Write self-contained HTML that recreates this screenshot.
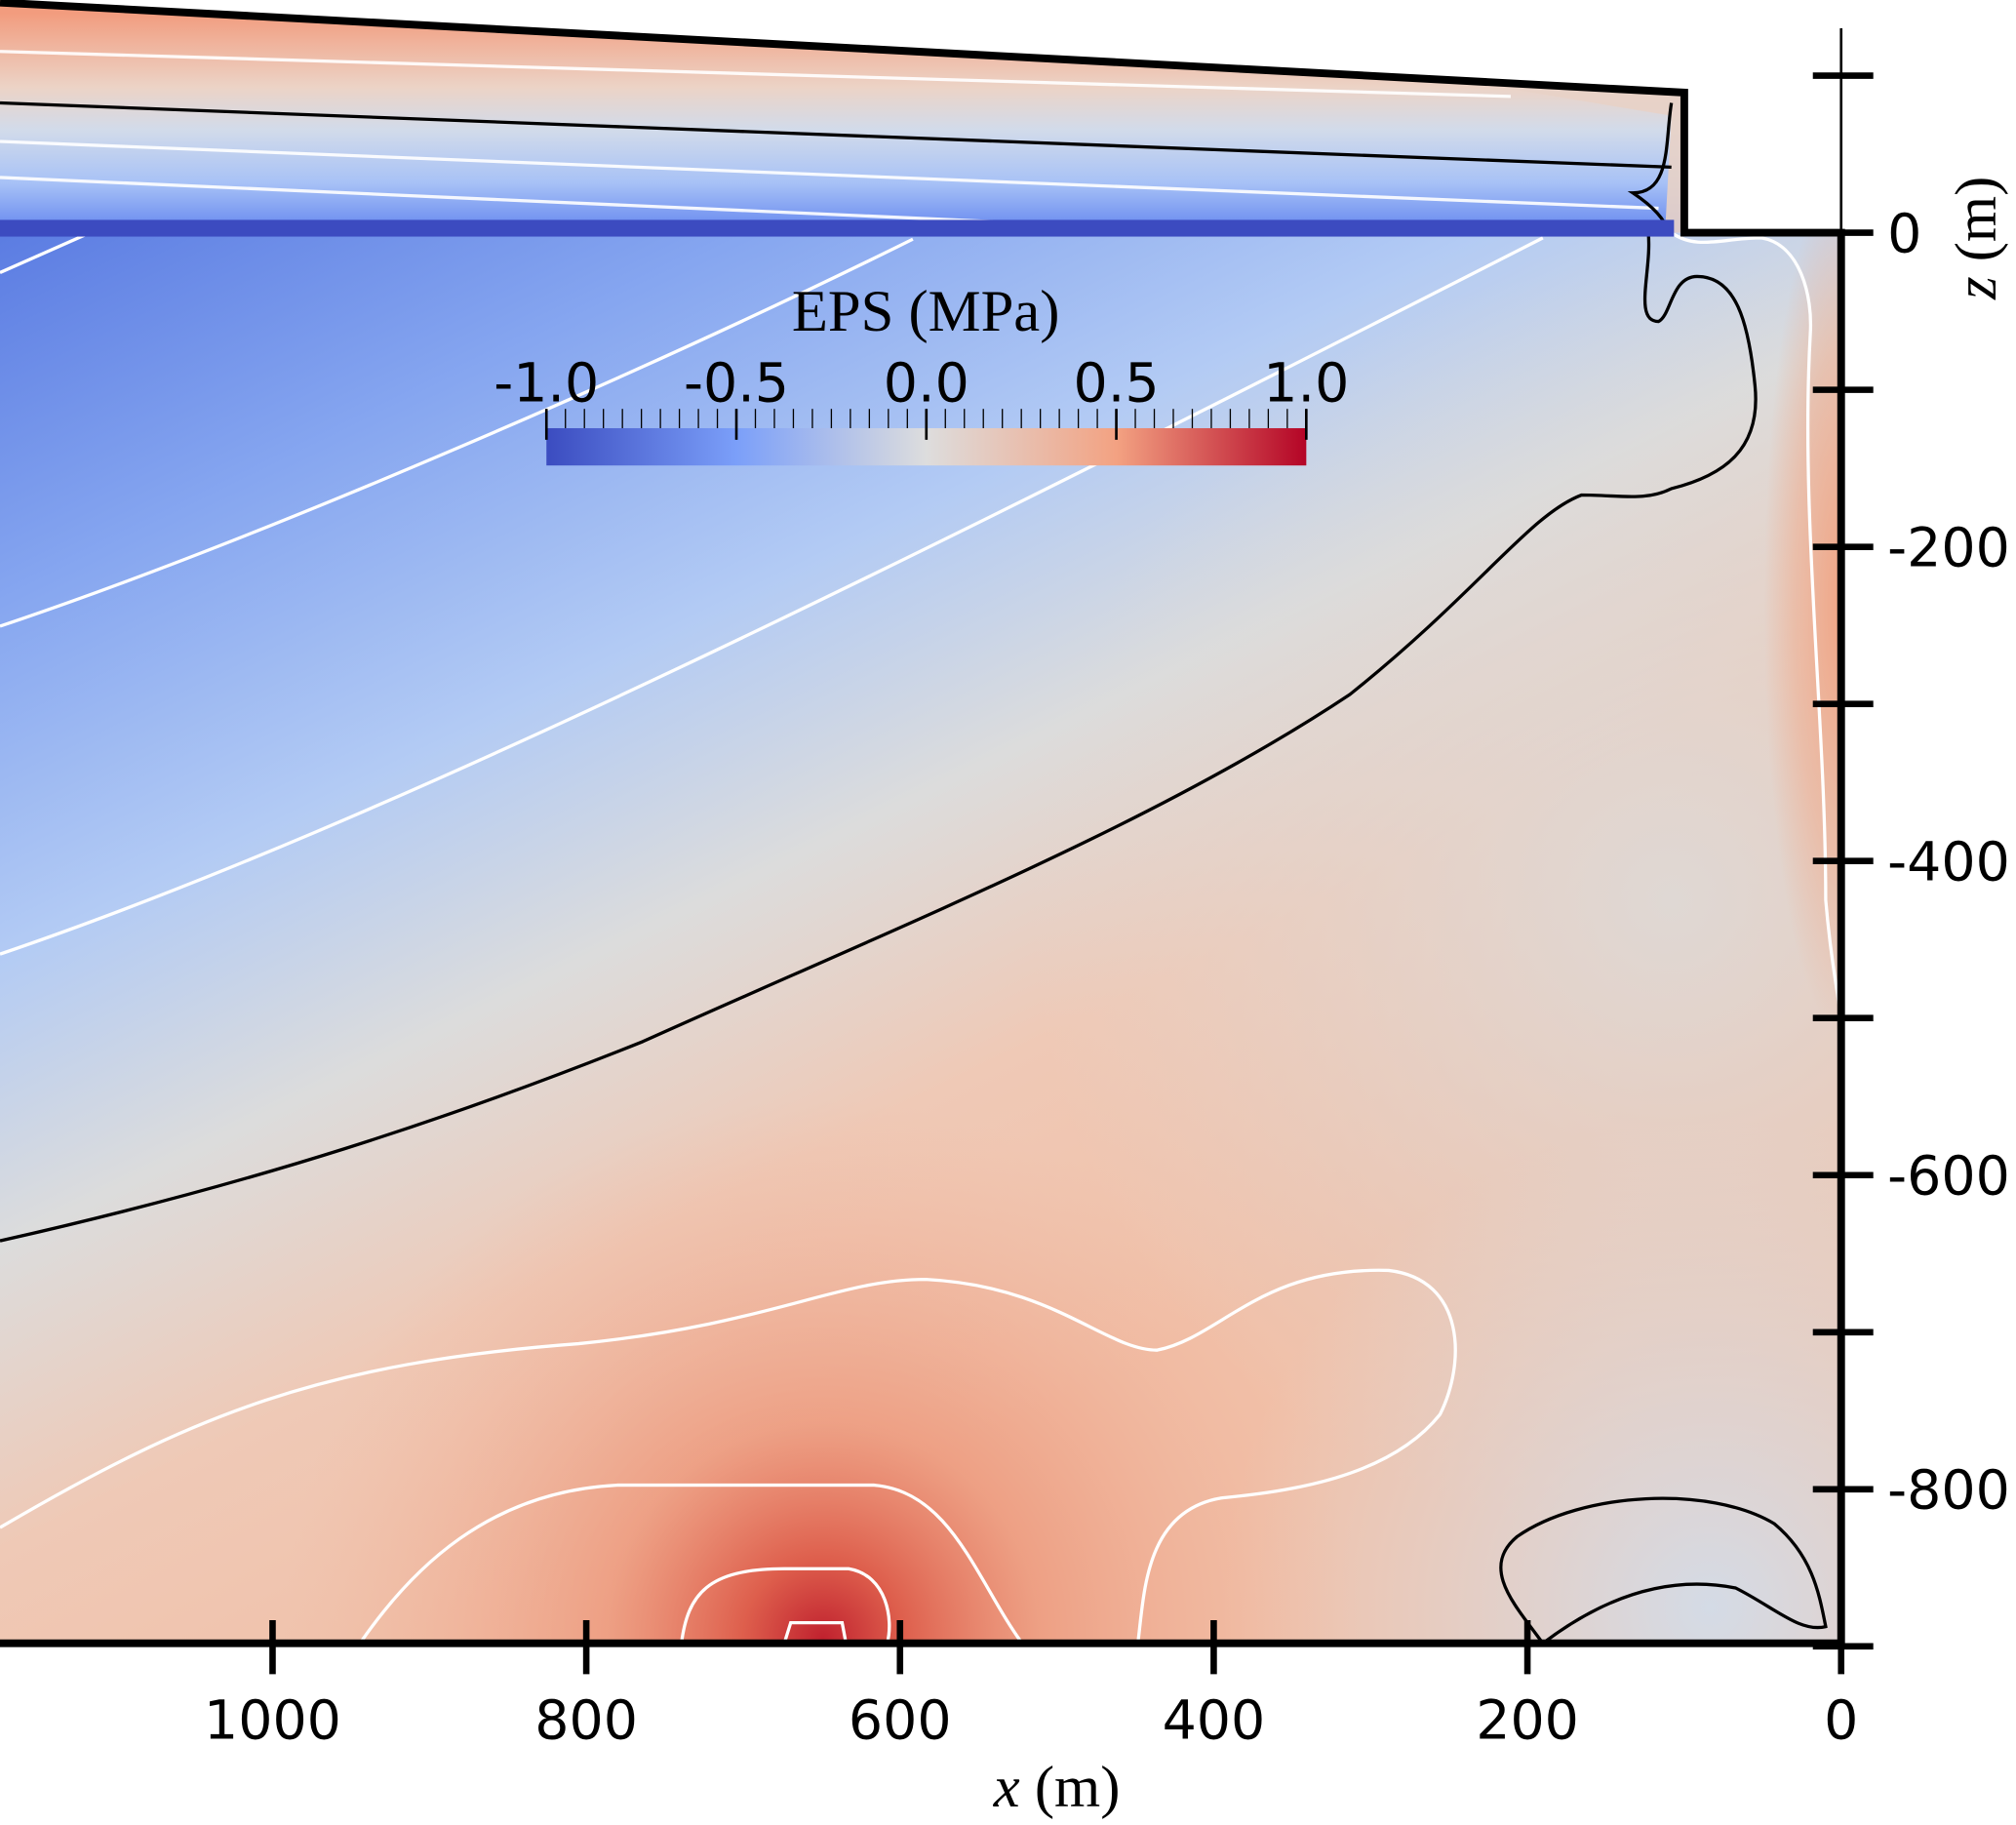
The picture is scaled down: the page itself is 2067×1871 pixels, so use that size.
<!DOCTYPE html>
<html><head><meta charset="utf-8"><style>
html,body{margin:0;padding:0;background:#fff;}
svg{display:block;}
text{font-family:"DejaVu Sans","Liberation Sans",sans-serif;}
.serif{font-family:"Liberation Serif",serif;}
</style></head><body>
<svg id="chart" width="2067" height="1871" viewBox="0 0 1568 1419.3" preserveAspectRatio="none" xmlns="http://www.w3.org/2000/svg">
<defs>
  <linearGradient id="field" gradientUnits="userSpaceOnUse" x1="0" y1="180" x2="520" y2="1240">
    <stop offset="0" stop-color="#5b7ce2"/>
    <stop offset="0.22" stop-color="#86a6f0"/>
    <stop offset="0.43" stop-color="#b3cbf4"/>
    <stop offset="0.6" stop-color="#dcdcdc"/>
    <stop offset="0.78" stop-color="#efc9b6"/>
    <stop offset="1" stop-color="#f1c0a8"/>
  </linearGradient>
  <radialGradient id="hot" gradientUnits="userSpaceOnUse" cx="640" cy="1275" r="420">
    <stop offset="0" stop-color="#c0212e" stop-opacity="1"/>
    <stop offset="0.15" stop-color="#dd5a48" stop-opacity="0.95"/>
    <stop offset="0.4" stop-color="#eb8a6c" stop-opacity="0.6"/>
    <stop offset="1" stop-color="#f2b49a" stop-opacity="0"/>
  </radialGradient>
  <radialGradient id="coolbr" gradientUnits="userSpaceOnUse" cx="1330" cy="1250" r="380">
    <stop offset="0" stop-color="#d4dbe6" stop-opacity="1"/>
    <stop offset="1" stop-color="#dcdcdc" stop-opacity="0"/>
  </radialGradient>
  <radialGradient id="grayr" gradientUnits="userSpaceOnUse" cx="1300" cy="700" r="500">
    <stop offset="0" stop-color="#dddad8" stop-opacity="0.9"/>
    <stop offset="1" stop-color="#dddad8" stop-opacity="0"/>
  </radialGradient>
  <radialGradient id="edge" cx="0.5" cy="0.5" r="0.5">
    <stop offset="0" stop-color="#f0a383" stop-opacity="0.95"/>
    <stop offset="0.6" stop-color="#f0a888" stop-opacity="0.5"/>
    <stop offset="1" stop-color="#f0a888" stop-opacity="0"/>
  </radialGradient>
  <linearGradient id="shelf" gradientUnits="userSpaceOnUse" x1="0" y1="10" x2="0" y2="175">
    <stop offset="0" stop-color="#f29c7e"/>
    <stop offset="0.35" stop-color="#ecd3c6"/>
    <stop offset="0.55" stop-color="#d2dbea"/>
    <stop offset="0.8" stop-color="#a8c2f6"/>
    <stop offset="1" stop-color="#6d8ef0"/>
  </linearGradient>
  <linearGradient id="cbar" x1="0" y1="0" x2="1" y2="0">
    <stop offset="0" stop-color="#3b4cc0"/>
    <stop offset="0.25" stop-color="#7b9ff9"/>
    <stop offset="0.5" stop-color="#dddddd"/>
    <stop offset="0.75" stop-color="#f3a282"/>
    <stop offset="1" stop-color="#b40426"/>
  </linearGradient>
  <clipPath id="water"><rect x="0" y="181" width="1432" height="1097"/></clipPath>
</defs>

<g>
  <polygon points="0,0 1310,72 1310,181 0,181" fill="url(#shelf)"/>
  <polygon points="1180,70 1310,72 1310,181 1295,181 1300,90" fill="#e8d2c6" opacity="0.9"/>
  <path d="M0,40 L1175,75" stroke="#fff" stroke-width="2.5" fill="none" opacity="0.9"/>
  <path d="M0,80 L1300,130" stroke="#000" stroke-width="2.5" fill="none"/>
  <path d="M0,110 L1290,162" stroke="#fff" stroke-width="2.5" fill="none" opacity="0.9"/>
  <path d="M0,138 L900,178" stroke="#fff" stroke-width="2.5" fill="none" opacity="0.9"/>
  <path d="M1300,80 C1295,110 1300,150 1270,150 C1285,160 1295,170 1298,181" stroke="#000" stroke-width="2.5" fill="none"/>
</g>

<g clip-path="url(#water)">
  <rect x="0" y="181" width="1432" height="1097" fill="url(#field)"/>
  <rect x="0" y="181" width="1432" height="1097" fill="url(#grayr)"/>
  <rect x="0" y="181" width="1432" height="1097" fill="url(#coolbr)"/>
  <rect x="0" y="181" width="1432" height="1097" fill="url(#hot)"/>
  <ellipse cx="1432" cy="470" rx="60" ry="330" fill="url(#edge)"/>
  <g fill="none" stroke="#fff" stroke-width="2.5">
    <path d="M0,212 L70,181"/>
    <path d="M0,487 C200,420 500,290 710,186"/>
    <path d="M0,742 C300,640 700,440 1200,185"/>
    <path d="M0,1188 C150,1100 250,1060 450,1045 C600,1030 650,995 720,995 C820,1000 860,1050 900,1050 C950,1040 980,985 1080,988 C1140,995 1140,1060 1120,1100 C1080,1150 1000,1160 950,1165 C890,1175 890,1240 885,1278"/>
    <path d="M280,1278 C320,1220 380,1160 480,1155 L680,1155 C740,1160 760,1230 795,1278"/>
    <path d="M530,1278 C535,1240 550,1220 610,1220 L660,1220 C690,1225 695,1260 690,1278"/>
    <path d="M610,1278 L615,1262 L655,1262 L658,1278"/>
    <path d="M1300,181 C1320,195 1340,185 1370,185 C1400,190 1410,230 1408,260 C1400,400 1420,560 1420,700 C1425,760 1432,780 1432,800"/>
  </g>
  <g fill="none" stroke="#000" stroke-width="2.5">
    <path d="M0,965 C200,920 350,870 500,810 C700,720 900,640 1050,540 C1150,460 1190,400 1230,385 C1260,385 1280,390 1300,380 C1340,370 1370,350 1365,300 C1360,250 1350,215 1320,215 C1300,215 1300,245 1290,250 C1270,250 1285,210 1282,181"/>
    <path d="M1200,1278 C1180,1250 1150,1220 1180,1195 C1230,1160 1330,1155 1380,1185 C1410,1210 1415,1240 1420,1265 C1400,1270 1380,1250 1350,1235 C1300,1225 1250,1240 1200,1278"/>
  </g>
</g>
<rect x="0" y="171" width="1302" height="13" fill="#3c4bc0"/>

<g fill="none" stroke="#000" stroke-width="6">
  <polyline points="0,2 1310,72 1310,181 1432,181 1432,1278 0,1278"/>
</g>

<g id="zaxis"></g>
<g id="xaxis"></g>
<line x1="1432" y1="22" x2="1432" y2="181" stroke="#000" stroke-width="2"/>
<text class="serif" x="1552" y="185" font-size="46" transform="rotate(-90 1552 185)" text-anchor="middle"><tspan font-style="italic">z</tspan> (m)</text>
<text class="serif" x="822" y="1405" font-size="46" text-anchor="middle"><tspan font-style="italic">x</tspan> (m)</text>

<g id="colorbar">
  <text class="serif" x="720" y="257" font-size="46" text-anchor="middle">EPS (MPa)</text>
  <rect x="425" y="333" width="591" height="29" fill="url(#cbar)"/>
</g>

<script>
var zTicks = [100, 0, -100, -200, -300, -400, -500, -600, -700, -800, -900];
var zLabels = ["0", "-200", "-400", "-600", "-800"];
var zLabelVals = [0, -200, -400, -600, -800];
var xTicks = [1000, 800, 600, 400, 200, 0];
var xLabels = ["1000", "800", "600", "400", "200", "0"];
var cbTicks = [-1.0, -0.5, 0.0, 0.5, 1.0];
var cbLabels = ["-1.0", "-0.5", "0.0", "0.5", "1.0"];
var cbMinorStep = 0.05;

var NS = "http://www.w3.org/2000/svg";
function zy(z){ return 181 - z * 1.2215; }
function xx(x){ return 1432 - x * 1.22; }
function cbx(v){ return 425 + (v + 1) / 2 * 591; }
function mk(tag, attrs, parent){ var e = document.createElementNS(NS, tag); for (var k in attrs) e.setAttribute(k, attrs[k]); parent.appendChild(e); return e; }

var za = document.getElementById('zaxis');
zTicks.forEach(function(z){
  var l = mk('line', {x1:1410, x2:1457, y1:zy(z), y2:zy(z), stroke:'#000', 'stroke-width':5}, za);
  
  
});
zLabelVals.forEach(function(z, i){
  var t = mk('text', {x:1468, y:zy(z) + 15, 'font-size':42}, za);
  t.textContent = zLabels[i];
  
  
});
var xa = document.getElementById('xaxis');
xTicks.forEach(function(x, i){
  var l = mk('line', {x1:xx(x), x2:xx(x), y1:1260, y2:1302, stroke:'#000', 'stroke-width':5}, xa);
  
  
  var t = mk('text', {x:xx(x), y:1352, 'font-size':42, 'text-anchor':'middle'}, xa);
  t.textContent = xLabels[i];
  
  
});
var cb = document.getElementById('colorbar');
for (var v = -1; v <= 1.0001; v += cbMinorStep) {
  var m = mk('line', {x1:cbx(v), x2:cbx(v), y1:318, y2:333, stroke:'#000', 'stroke-width':1}, cb);
  
  
}
cbTicks.forEach(function(v, i){
  var l = mk('line', {x1:cbx(v), x2:cbx(v), y1:318, y2:342, stroke:'#000', 'stroke-width':2}, cb);
  
  
  var t = mk('text', {x:cbx(v), y:312, 'font-size':42, 'text-anchor':'middle'}, cb);
  t.textContent = cbLabels[i];
  
  
});
</script>
</svg>
</body></html>
